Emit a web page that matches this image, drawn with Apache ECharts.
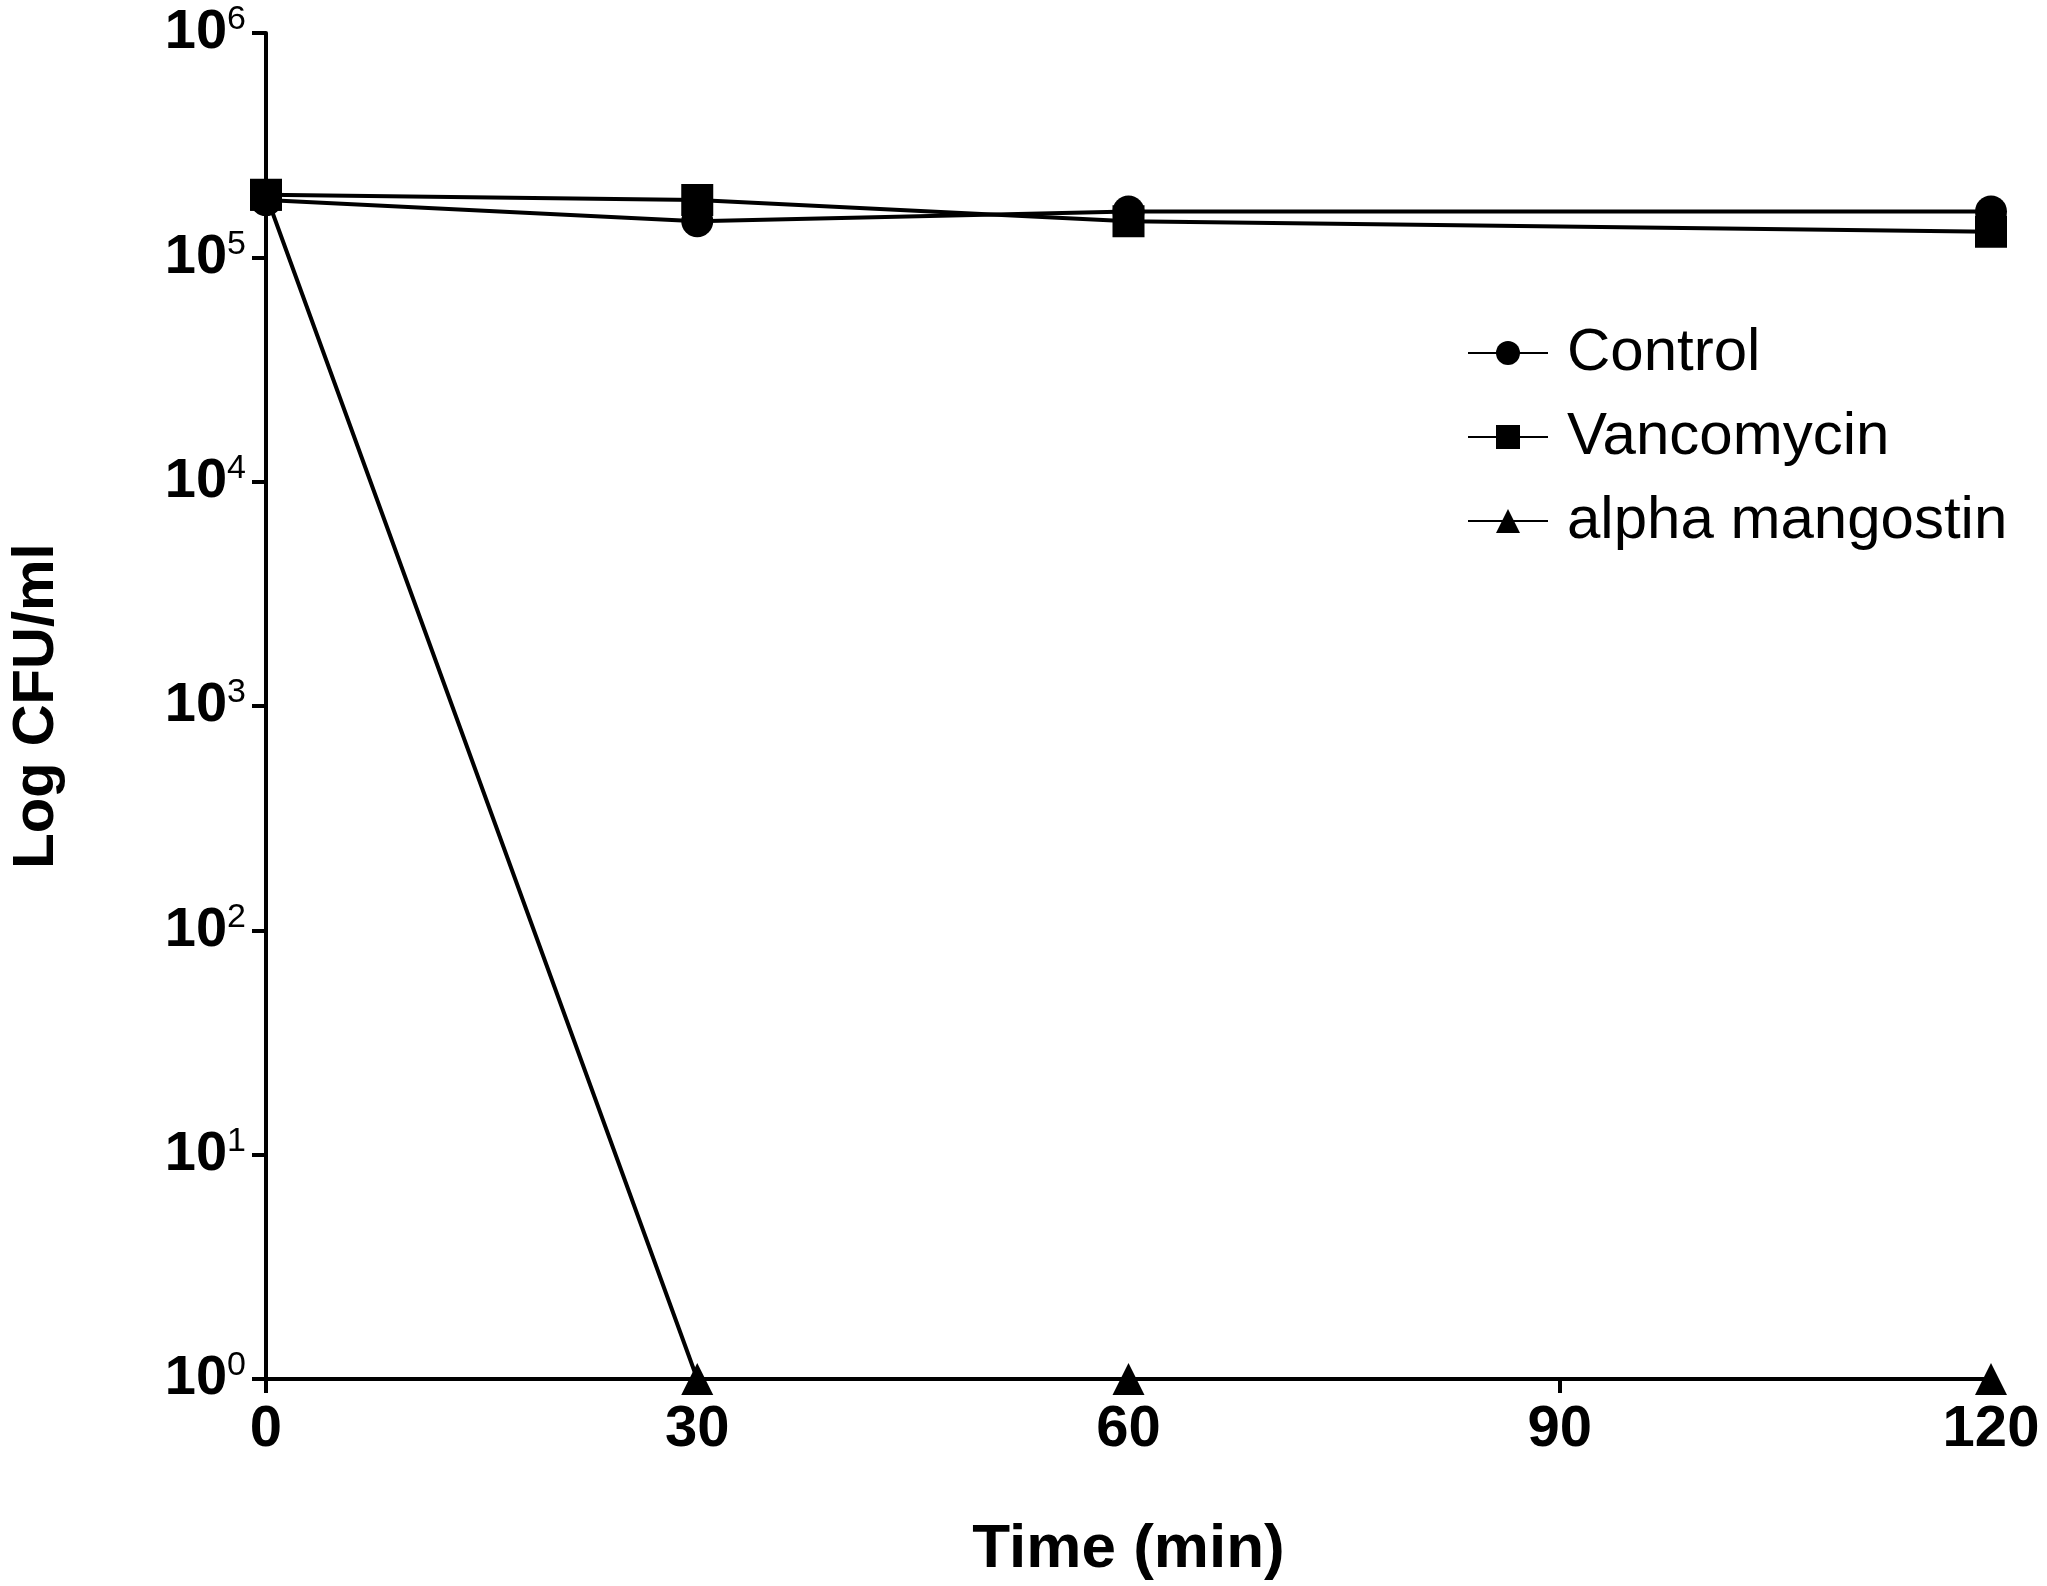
<!DOCTYPE html>
<html><head><meta charset="utf-8">
<script src="https://cdn.jsdelivr.net/npm/echarts@6/dist/echarts.min.js"></script>
<style>html,body{margin:0;background:#fff}#c{width:2047px;height:1586px}</style></head>
<body><div id="c"></div>
<script>
const times=[0,30,60,120];
const control=[1.8e5,1.45e5,1.6e5,1.6e5];
const vancomycin=[1.9e5,1.8e5,1.45e5,1.3e5];
const alpha=[1.9e5,1,1,1];
const xTicks=[0,30,60,90,120];
const ch=echarts.init(document.getElementById('c'));
const mk=(name,data,sym,size)=>({name,type:'line',data:times.map((t,i)=>[t,data[i]]),symbol:sym,symbolSize:size,
 lineStyle:{color:'#000',width:4},itemStyle:{color:'#000'},clip:false,z:sym==='triangle'?3:2});
ch.setOption({
 animation:false,
 grid:{left:255,right:56,top:33,bottom:196},
 legend:{orient:'vertical',left:1462,top:318,itemGap:24,itemWidth:80,itemHeight:30,
  textStyle:{fontFamily:'Arial, Liberation Sans',fontSize:60,color:'#000',padding:[0,0,0,14]},
  data:['Control','Vancomycin','alpha mangostin']},
 xAxis:{type:'value',min:0,max:120,interval:30,
  name:'Time (min)',nameLocation:'middle',nameGap:140,
  nameTextStyle:{fontFamily:'Arial, Liberation Sans',fontWeight:'bold',fontSize:62,color:'#000'},
  axisLine:{lineStyle:{color:'#000',width:4}},axisTick:{length:14,lineStyle:{width:4,color:'#000'}},
  splitLine:{show:false},
  axisLabel:{margin:22,fontFamily:'Arial, Liberation Sans',fontWeight:'bold',fontSize:58,color:'#000'}},
 yAxis:{type:'log',logBase:10,min:1,max:1e6,
  name:'Log CFU/ml',nameLocation:'middle',nameGap:200,
  nameTextStyle:{fontFamily:'Arial, Liberation Sans',fontWeight:'bold',fontSize:58,color:'#000'},
  axisLine:{show:true,lineStyle:{color:'#000',width:4}},axisTick:{show:true,length:14,lineStyle:{width:4,color:'#000'}},
  splitLine:{show:false},
  axisLabel:{margin:20,fontFamily:'Arial, Liberation Sans',fontWeight:'bold',fontSize:56,color:'#000',
   formatter:v=>{const e=Math.round(Math.log10(v));return '10{s|'+e+'}';},
   rich:{s:{fontSize:34,fontWeight:'normal',verticalAlign:'top',padding:[0,0,26,0],color:'#000'}}}},
 series:[mk('Control',control,'circle',32),mk('Vancomycin',vancomycin,'rect',32),mk('alpha mangostin',alpha,'triangle',32)]
});
</script></body></html>
